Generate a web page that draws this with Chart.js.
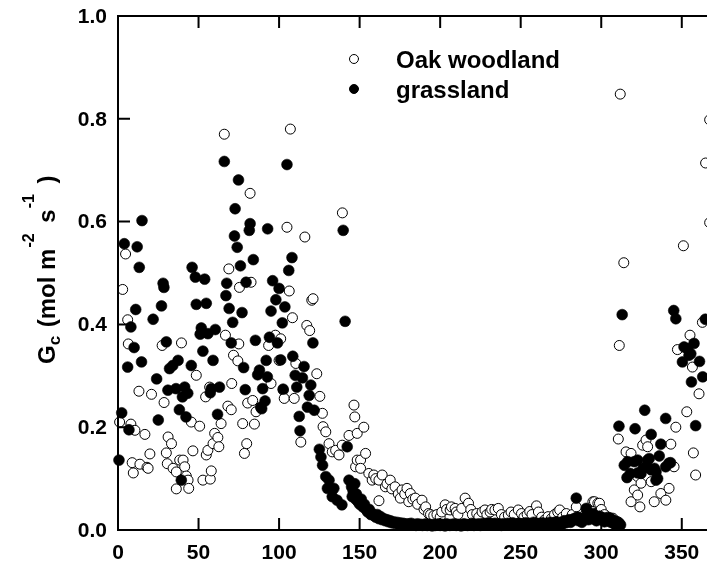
<!DOCTYPE html>
<html>
<head>
<meta charset="utf-8">
<script src="https://cdn.jsdelivr.net/npm/chart.js@4.4.0/dist/chart.umd.min.js"></script>
<style>
  html, body { margin: 0; padding: 0; background: #fff; overflow: hidden; }
  #grafico { display: block; }
</style>
</head>
<body>
<canvas id="grafico" width="720" height="564"></canvas>
<script>
// ========= Datos (día del año, Gc) =========
const oakWoodland = [
  [1,0.21],[2.9,0.468],[4.7,0.537],[6,0.409],[6.4,0.362],[8,0.206],[8.8,0.131],[9.5,0.111],[10.5,0.194],
  [13,0.27],[13.6,0.128],[16.7,0.186],[18,0.122],[18.7,0.12],[19.8,0.148],[20.8,0.264],[27.4,0.359],
  [28.6,0.248],[30,0.15],[30.6,0.129],[31.1,0.181],[33.2,0.168],[34.2,0.12],[36.2,0.113],[36.2,0.08],
  [38.3,0.136],[39.4,0.364],[40.4,0.136],[41.4,0.123],[42.4,0.105],[43.5,0.097],[43.9,0.081],[45.5,0.21],
  [46.5,0.154],[48.6,0.301],[50.7,0.202],[52.7,0.097],[54.4,0.259],[54.8,0.146],[55.8,0.155],[56.9,0.278],
  [57.3,0.099],[57.9,0.115],[59,0.168],[60,0.188],[62,0.18],[62.6,0.162],[64,0.207],[66,0.77],[66.7,0.379],
  [68.2,0.241],[68.8,0.508],[70.3,0.234],[70.6,0.285],[71.7,0.34],[74.4,0.329],[75,0.362],[75.4,0.472],
  [77.4,0.207],[78.5,0.149],[79.9,0.168],[80.5,0.247],[82,0.655],[82.6,0.482],[83.6,0.252],[84.7,0.206],
  [85.7,0.23],[93.5,0.359],[95,0.285],[97.7,0.379],[100,0.33],[101,0.372],[102.6,0.272],[103.2,0.256],
  [104.9,0.589],[106.3,0.465],[107,0.78],[108.3,0.413],[109.4,0.256],[110.4,0.324],[113.5,0.171],[116,0.57],
  [117.2,0.398],[119,0.388],[120.3,0.447],[121.1,0.45],[123.4,0.304],[125.3,0.26],[126.9,0.227],[127.3,0.201],
  [129,0.191],[131,0.168],[133,0.152],[135.1,0.155],[137.2,0.146],[139.2,0.165],[139.3,0.617],[143.4,0.184],
  [146.5,0.243],[147,0.22],[147.5,0.123],[148.5,0.188],[148.5,0.136],
  [150.6,0.136],[150.6,0.12],[152.6,0.2],[153.7,0.149],[155.7,0.11],[157.8,0.097],[158.8,0.107],[160,0.1],
  [162,0.097],[162,0.057],[164,0.107],[166,0.084],[167,0.09],[169,0.097],[170,0.08],[172,0.084],[174,0.07],
  [175.3,0.062],[176.3,0.078],[178,0.07],[179.4,0.081],[180.5,0.055],[181.5,0.071],[183,0.06],[184.6,0.062],
  [186,0.05],[188.7,0.058],[190,0.04],[191,0.045],[192.8,0.032],[194,0.03],[196,0.028],[198,0.03],[200,0.025],
  [201,0.035],[203.1,0.049],[204,0.04],[206.2,0.039],[207,0.045],[209.3,0.042],[210,0.035],[211,0.03],
  [213.4,0.042],[215.5,0.062],[217.6,0.052],[219,0.04],[220,0.03],[222.7,0.032],[224,0.025],[226,0.035],
  [227.8,0.039],[229,0.03],[231,0.035],[232,0.04],[234,0.039],[236.1,0.042],[238,0.03],[240,0.025],
  [242.3,0.029],[244,0.035],[246,0.03],[248.5,0.039],[250.5,0.032],[252,0.025],[254,0.03],[255.6,0.036],
  [257,0.03],[259.8,0.047],[261,0.035],[263,0.025],[265,0.02],[267,0.026],[269,0.022],[271,0.03],[273,0.035],
  [274.2,0.039],[276,0.025],[278.3,0.032],[280,0.02],[282,0.03],[284.5,0.045],[286,0.025],[288,0.02],
  [290,0.03],[292,0.035],[294.8,0.055],[295.8,0.055],[296.8,0.032],[297.9,0.052],[298.9,0.052],[300,0.04],
  [302,0.03],[304,0.025],[305,0.02],[307.2,0.023],[308,0.015],[310.3,0.016],[311,0.012],
  [310.6,0.177],[311.2,0.359],[311.8,0.848],[314,0.52],[315.4,0.152],[318.5,0.149],[318.5,0.055],[320.5,0.078],
  [322.6,0.104],[322.6,0.068],[324,0.045],[324.7,0.091],[325.7,0.165],[327.8,0.175],[328.8,0.162],[331,0.094],
  [332.9,0.055],[337,0.071],[340.1,0.058],[342.1,0.081],[343.2,0.167],[345.2,0.123],[346.3,0.2],[347.3,0.351],
  [351,0.553],[353.1,0.23],[355.1,0.379],[356.6,0.317],[357.2,0.15],[358.6,0.107],[360.7,0.265],[362.8,0.404],
  [364.8,0.714],[367.3,0.798],[367.3,0.598]
];

const grassland = [
  [0.6,0.136],[2.3,0.228],[3.9,0.557],[6,0.317],[6.8,0.195],[8,0.395],[10,0.355],[11,0.429],[11.9,0.551],
  [13.2,0.511],[14.6,0.327],[14.9,0.602],[21.8,0.41],[24,0.294],[25,0.214],[27,0.436],[28,0.48],[28.5,0.472],
  [30,0.366],[31,0.272],[32,0.314],[34,0.32],[36,0.275],[37.3,0.33],[38.1,0.234],[39.3,0.097],[40,0.259],
  [41.4,0.278],[42.2,0.22],[43.3,0.266],[45.5,0.32],[46,0.511],[48,0.492],[48.6,0.439],[51,0.381],[51.7,0.393],
  [52.7,0.348],[53.8,0.488],[54.8,0.441],[55.8,0.382],[57.3,0.267],[57.9,0.275],[59,0.33],[60.4,0.39],
  [61.8,0.225],[63,0.278],[66,0.717],[67,0.456],[67.5,0.48],[69,0.431],[70.3,0.364],[71.2,0.404],[72.3,0.572],
  [72.7,0.625],[74,0.55],[74.8,0.681],[76,0.514],[77,0.423],[78,0.316],[79,0.273],[79.5,0.482],[81.5,0.583],
  [82,0.596],[84,0.526],[85.3,0.369],[86.7,0.302],[87.8,0.311],[88.6,0.239],[89.2,0.236],[89.8,0.275],
  [91.3,0.251],[92,0.33],[92.7,0.298],[92.9,0.586],[94,0.375],[95,0.426],[96,0.485],[98,0.448],[99,0.364],
  [100,0.47],[101,0.331],[102,0.403],[102.5,0.274],[103.6,0.434],[104.9,0.711],[106,0.505],[108,0.53],
  [108.5,0.338],[110,0.301],[111,0.278],[112.5,0.221],[113,0.193],[114.5,0.296],[115.5,0.318],[117.6,0.239],
  [118.7,0.262],[119.7,0.282],[121,0.364],[121.8,0.233],[125,0.157],[126,0.142],[127,0.126],[129,0.104],
  [130,0.081],[131,0.097],[133,0.065],[134,0.081],[136,0.058],[139,0.049],[139.8,0.583],[141,0.406],
  [142.3,0.162],[143.4,0.097],[145,0.084],[145.4,0.065],
  [146,0.075],[147,0.09],[147.5,0.06],[148,0.07],[149,0.055],[150,0.05],[151,0.06],[152,0.045],[153,0.05],
  [154,0.04],[155,0.035],[156,0.04],[157,0.03],[158,0.032],[159,0.028],[160,0.025],[161,0.03],[162,0.022],
  [163,0.026],[164,0.02],[165,0.022],[166,0.018],[167,0.02],[168,0.016],[169,0.018],[170,0.014],[171,0.016],
  [172,0.013],[173,0.015],[174,0.012],[175,0.014],[176,0.011],[177,0.013],[178,0.012],[179,0.01],[180,0.012],
  [181,0.011],[182,0.013],[183,0.01],[184,0.011],[185,0.009],[186,0.012],[187,0.01],[188,0.011],[189,0.009],
  [190,0.01],[191,0.012],[192,0.009],[193,0.011],[194,0.01],[195,0.008],[196,0.011],[197,0.009],[198,0.01],
  [199,0.012],[200,0.009],[201,0.011],[202,0.01],[203,0.008],[204,0.012],[205,0.01],[206,0.009],[207,0.011],
  [208,0.01],[209,0.012],[210,0.009],[211,0.011],[212,0.01],[213,0.008],[214,0.011],[215,0.012],[216,0.01],
  [217,0.009],[218,0.011],[219,0.01],[220,0.013],[221,0.009],[222,0.011],[223,0.01],[224,0.012],[225,0.009],
  [226,0.011],[227,0.013],[228,0.01],[229,0.012],[230,0.014],[231,0.01],[232,0.012],[233,0.011],[234,0.013],
  [235,0.01],[236,0.012],[237,0.011],[238,0.009],[239,0.012],[240,0.01],[241,0.011],[242,0.013],[243,0.01],
  [244,0.012],[245,0.014],[246,0.011],[247,0.01],[248,0.012],[249,0.013],[250,0.011],[251,0.01],[252,0.012],
  [253,0.014],[254,0.011],[255,0.013],[256,0.01],[257,0.012],[258,0.015],[259,0.011],[260,0.013],[261,0.01],
  [262,0.012],[263,0.014],[264,0.011],[265,0.013],[266,0.01],[267,0.012],[268,0.015],[269,0.011],[270,0.014],
  [271,0.012],[272,0.016],[273,0.013],[274,0.011],[275,0.015],[276,0.012],[277,0.018],[278,0.014],[279,0.016],
  [280,0.02],[281,0.015],[282,0.018],[283,0.022],[284.5,0.062],[285,0.025],[286,0.018],[287,0.021],[288,0.015],
  [289,0.024],[290.7,0.042],[291,0.028],[292,0.02],[293,0.03],[294,0.022],[295,0.032],[296,0.025],[297,0.018],
  [298,0.022],[299,0.027],[300,0.02],[301,0.024],[302,0.016],[303,0.021],[304,0.018],[305,0.024],[306,0.015],
  [307,0.02],[308,0.012],[309,0.017],[310,0.01],[311,0.014],[312,0.01],
  [311,0.202],[313,0.419],[314.3,0.126],[316,0.102],[316.4,0.133],[318,0.11],[320.5,0.133],[321,0.197],
  [322.6,0.136],[322.6,0.111],[324.7,0.11],[326,0.12],[327,0.233],[327.8,0.123],[328.8,0.136],[329.8,0.139],
  [331,0.186],[331,0.117],[333,0.12],[334,0.113],[334,0.097],[335,0.1],[336,0.144],[337,0.167],[340,0.217],
  [340,0.123],[342,0.13],[343,0.131],[345,0.427],[346.3,0.411],[350.4,0.327],[351.4,0.356],[353.5,0.353],
  [354.5,0.34],[355.6,0.343],[356,0.288],[357.6,0.363],[358.6,0.203],[361,0.328],[363,0.298],[364.6,0.41]
];

const xTicks = [0, 50, 100, 150, 200, 250, 300, 350];
const yTicks = [0, 0.2, 0.4, 0.6, 0.8, 1.0];
const yTickLabels = ['0.0', '0.2', '0.4', '0.6', '0.8', '1.0'];
const legendLabels = ['Oak woodland', 'grassland'];

// título del eje Y por partes: texto, tamaño, desplazamiento de línea base, hueco extra
const yTitle = [
    { t: 'G', size: 24, dy: 0, gap: 0 },
    { t: 'c', size: 17, dy: 5, gap: 2 },
    { t: ' (mol m', size: 24, dy: 0, gap: 1 },
    { t: '-2', size: 16, dy: -21, gap: 4 },
    { t: ' s', size: 24, dy: 0, gap: 1 },
    { t: '-1', size: 16, dy: -21, gap: 4 },
    { t: ' )', size: 24, dy: 0, gap: 0 }
];

const FUENTE = '"Liberation Sans", Arial, Helvetica, sans-serif';

// ========= Ejes, leyenda y título =========
const extras = {
    id: 'extras',
    afterDraw(chart) {
        const { ctx, chartArea: a, scales: { x, y } } = chart;
        ctx.save();
        ctx.strokeStyle = '#000';
        ctx.lineWidth = 2;
        ctx.lineCap = 'square';
        ctx.beginPath();
        ctx.moveTo(a.left, a.top);
        ctx.lineTo(a.left, a.bottom);
        ctx.lineTo(a.right, a.bottom);
        ctx.moveTo(a.left, a.top);
        ctx.lineTo(a.right, a.top);
        xTicks.forEach(v => {
            if (v === 0) return;
            const px = x.getPixelForValue(v);
            ctx.moveTo(px, a.bottom); ctx.lineTo(px, a.bottom - 11);
            ctx.moveTo(px, a.top); ctx.lineTo(px, a.top + 11);
        });
        yTicks.forEach(v => {
            const py = y.getPixelForValue(v);
            ctx.moveTo(a.left, py); ctx.lineTo(a.left + 11, py);
        });
        ctx.stroke();

        // etiquetas del eje Y
        ctx.fillStyle = '#000';
        ctx.font = 'bold 21px ' + FUENTE;
        ctx.textAlign = 'right';
        ctx.textBaseline = 'middle';
        yTicks.forEach((v, i) => {
            ctx.fillText(yTickLabels[i], a.left - 11, y.getPixelForValue(v) + 1);
        });

        // leyenda
        ctx.textAlign = 'left';
        ctx.font = 'bold 24px ' + FUENTE;
        ctx.textBaseline = 'alphabetic';
        legendLabels.forEach((txt, i) => {
            const cy = 59 + i * 30;
            ctx.beginPath();
            ctx.arc(354, cy, 4.5, 0, Math.PI * 2);
            ctx.fillStyle = i === 0 ? '#fff' : '#000';
            ctx.fill();
            ctx.lineWidth = 1;
            ctx.stroke();
            ctx.fillStyle = '#000';
            ctx.fillText(txt, 396, cy + 9);
        });

        // título eje Y
        ctx.translate(55, 364);
        ctx.rotate(-Math.PI / 2);
        let cx = 0;
        yTitle.forEach(p => {
            ctx.font = 'bold ' + p.size + 'px ' + FUENTE;
            ctx.fillText(p.t, cx, p.dy);
            cx += ctx.measureText(p.t).width + p.gap;
        });
        ctx.restore();
    }
};

// ========= Gráfico =========
const ctxGrafico = document.getElementById('grafico').getContext('2d');
new Chart(ctxGrafico, {
    type: 'scatter',
    data: {
        datasets: [
            {
                label: legendLabels[1],
                data: grassland.map(([d, g]) => ({ x: d, y: g })),
                pointRadius: 5.4,
                pointBackgroundColor: '#000',
                pointBorderColor: '#000',
                pointBorderWidth: 0.6,
                clip: false,
                order: 0
            },
            {
                label: legendLabels[0],
                data: oakWoodland.map(([d, g]) => ({ x: d, y: g })),
                pointRadius: 5,
                pointBackgroundColor: '#fff',
                pointBorderColor: '#000',
                pointBorderWidth: 1,
                clip: false,
                order: 1
            }
        ]
    },
    plugins: [extras],
    options: {
        responsive: false,
        animation: false,
        devicePixelRatio: 1,
        layout: { padding: { left: 0, right: 3.3, top: 16, bottom: 0 } },
        plugins: { legend: { display: false }, tooltip: { enabled: false } },
        scales: {
            x: {
                type: 'linear',
                min: 0,
                max: 370,
                grid: { display: false, drawTicks: false },
                border: { display: false },
                afterBuildTicks: s => { s.ticks = xTicks.map(v => ({ value: v })); },
                afterFit: s => { s.height = 34; },
                ticks: {
                    color: '#000',
                    padding: 11,
                    maxRotation: 0,
                    font: { family: FUENTE, size: 21, weight: 'bold' },
                    callback: v => String(v)
                }
            },
            y: {
                type: 'linear',
                min: 0,
                max: 1,
                grid: { display: false, drawTicks: false },
                border: { display: false },
                afterBuildTicks: s => { s.ticks = yTicks.map(v => ({ value: v })); },
                afterFit: s => { s.width = 118; },
                ticks: { display: false }
            }
        }
    }
});
</script>
</body>
</html>
